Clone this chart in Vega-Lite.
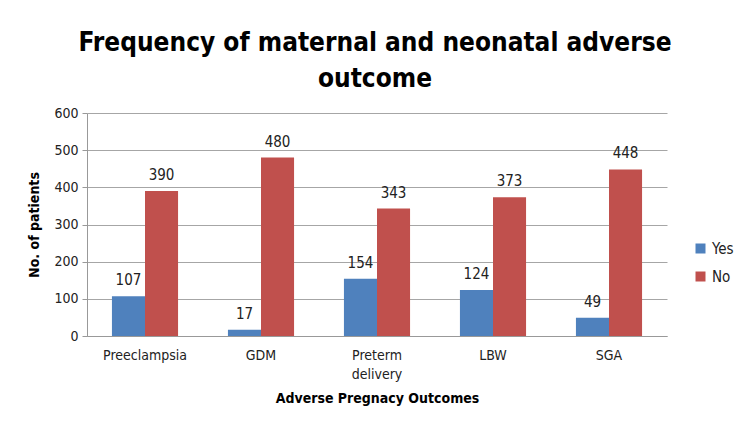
{
  "$schema": "https://vega.github.io/schema/vega-lite/v6.json",
  "autosize": "none",
  "width": 580,
  "height": 223,
  "padding": {"left": 87, "top": 113, "right": 83, "bottom": 102},
  "background": "white",
  "title": {
    "text": ["Frequency of maternal and neonatal adverse", "outcome"],
    "font": "DejaVu Sans Condensed, sans-serif",
    "fontSize": 26,
    "fontWeight": "bold",
    "color": "#000000",
    "anchor": "middle",
    "dx": -2,
    "offset": 14,
    "lineHeight": 36
  },
  "data": {
    "values": [
      {"outcome": "Preeclampsia", "group": "Yes", "count": 107},
      {"outcome": "Preeclampsia", "group": "No", "count": 390},
      {"outcome": "GDM", "group": "Yes", "count": 17},
      {"outcome": "GDM", "group": "No", "count": 480},
      {"outcome": "Preterm delivery", "group": "Yes", "count": 154},
      {"outcome": "Preterm delivery", "group": "No", "count": 343},
      {"outcome": "LBW", "group": "Yes", "count": 124},
      {"outcome": "LBW", "group": "No", "count": 373},
      {"outcome": "SGA", "group": "Yes", "count": 49},
      {"outcome": "SGA", "group": "No", "count": 448}
    ]
  },
  "encoding": {
    "x": {
      "field": "outcome",
      "type": "nominal",
      "sort": null,
      "scale": {"paddingInner": 0.43, "paddingOuter": 0.215},
      "axis": {
        "title": "Adverse Pregnacy Outcomes",
        "titleFont": "DejaVu Sans Condensed, sans-serif",
        "titleFontSize": 14,
        "titleFontWeight": "bold",
        "titleColor": "#000000",
        "titlePadding": 10,
        "labelAngle": 0,
        "labelFont": "DejaVu Sans Condensed, sans-serif",
        "labelFontSize": 14,
        "labelColor": "#222222",
        "labelPadding": 12,
        "labelLineHeight": 19,
        "labelExpr": "datum.label == 'Preterm delivery' ? ['Preterm', 'delivery'] : datum.label",
        "ticks": false,
        "domainColor": "#999999",
        "grid": false
      }
    },
    "xOffset": {"field": "group", "type": "nominal", "sort": ["Yes", "No"], "scale": {"paddingInner": 0, "paddingOuter": 0}},
    "y": {
      "field": "count",
      "type": "quantitative",
      "scale": {"domain": [0, 600]},
      "axis": {
        "title": "No. of patients",
        "titleFont": "DejaVu Sans Condensed, sans-serif",
        "titleFontSize": 14,
        "titleFontWeight": "bold",
        "titleColor": "#000000",
        "titlePadding": 12,
        "values": [0, 100, 200, 300, 400, 500, 600],
        "labelFont": "DejaVu Sans Condensed, sans-serif",
        "labelFontSize": 14,
        "labelColor": "#222222",
        "labelPadding": 4,
        "tickSize": 5,
        "tickColor": "#999999",
        "domainColor": "#999999",
        "gridColor": "#a6a6a6",
        "gridWidth": 1
      }
    }
  },
  "layer": [
    {
      "mark": {"type": "bar"},
      "encoding": {
        "color": {
          "field": "group",
          "type": "nominal",
          "sort": ["Yes", "No"],
          "scale": {"domain": ["Yes", "No"], "range": ["#4f81bd", "#c0504d"]},
          "legend": {
            "title": null,
            "orient": "none",
            "legendX": 606,
            "legendY": 128,
            "symbolType": "square",
            "symbolSize": 100,
            "symbolStrokeWidth": 0,
            "labelFont": "DejaVu Sans Condensed, sans-serif",
            "labelFontSize": 15,
            "labelColor": "#222222",
            "rowPadding": 12,
            "labelOffset": 4
          }
        }
      }
    },
    {
      "mark": {"type": "text", "baseline": "bottom", "dy": -8, "fontSize": 15, "font": "DejaVu Sans Condensed, sans-serif", "color": "#222222"},
      "encoding": {"text": {"field": "count", "type": "quantitative"}}
    }
  ],
  "config": {"view": {"stroke": null}}
}
